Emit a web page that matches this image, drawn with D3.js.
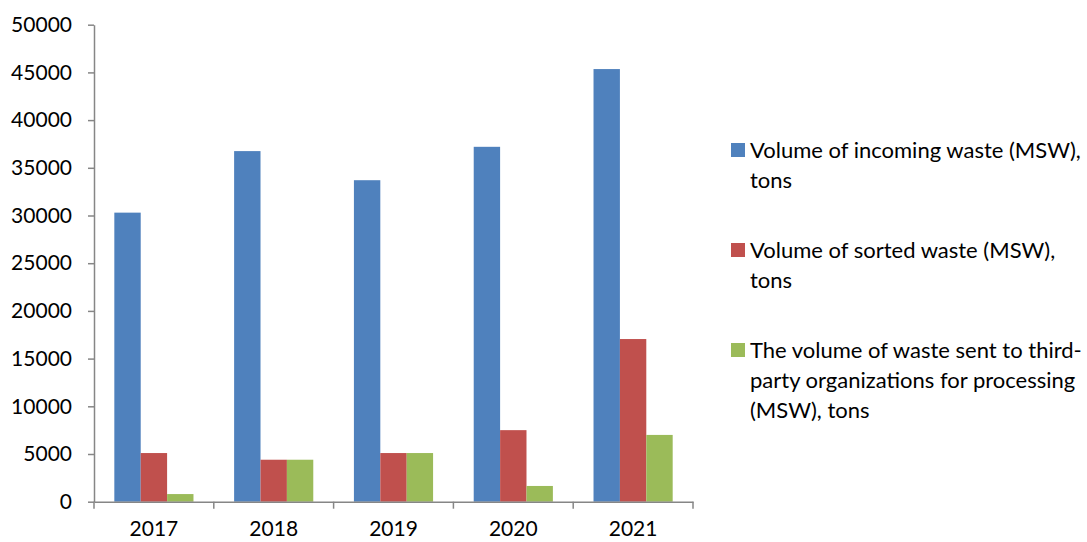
<!DOCTYPE html>
<html>
<head>
<meta charset="utf-8">
<script src="https://cdn.jsdelivr.net/npm/d3@7"></script>
<style>
  body { margin: 0; background: #fff; }
  svg text { font-family: Lato, "Open Sans", sans-serif; fill: #000; }
  .axis .domain, .axis .tick line { stroke: #868686; stroke-width: 1.5; }
</style>
</head>
<body>
<svg id="chart" width="1087" height="542"></svg>
<script>
const years = ["2017", "2018", "2019", "2020", "2021"];
const incoming = [30300, 36750, 33700, 37200, 45350];
const sorted = [5100, 4400, 5100, 7500, 17050];
const thirdParty = [800, 4400, 5100, 1650, 7000];
const yTicks = [0, 5000, 10000, 15000, 20000, 25000, 30000, 35000, 40000, 45000, 50000];

const seriesNames = [
  ["Volume of incoming waste (MSW),", "tons"],
  ["Volume of sorted waste (MSW),", "tons"],
  ["The volume of waste sent to third-", "party organizations for processing", "(MSW), tons"]
];
const colors = ["#4F81BD", "#C0504D", "#9BBB59"];

const series = [incoming, sorted, thirdParty];

const svg = d3.select("#chart");
const margin = {left: 94, right: 394, top: 24.7, bottom: 40.3};
const width = 1087, height = 542;

const x = d3.scaleBand()
    .domain(years)
    .range([margin.left, width - margin.right]);

const y = d3.scaleLinear()
    .domain([0, 50000])
    .range([height - margin.bottom, margin.top]);

// bars: group takes ~66% of each band (Excel gap width ~150%)
const inner = d3.scaleBand()
    .domain(d3.range(series.length))
    .range([0, x.bandwidth()])
    .paddingInner(0)
    .paddingOuter(0.77);

const g = svg.append("g");
series.forEach((vals, s) => {
  g.selectAll(".bar-" + s)
    .data(years.map((yr, i) => ({year: yr, value: vals[i]})))
    .enter().append("rect")
      .attr("class", "bar-" + s)
      .attr("x", d => x(d.year) + inner(s))
      .attr("y", d => y(d.value))
      .attr("width", inner.bandwidth())
      .attr("height", d => y(0) - y(d.value))
      .attr("fill", colors[s]);
});

// y axis
const gy = svg.append("g")
    .attr("class", "axis")
    .attr("transform", `translate(${margin.left},0)`)
    .call(d3.axisLeft(y).tickValues(yTicks).tickFormat(d3.format("d"))
      .tickSize(6).tickPadding(16).tickSizeOuter(0));
gy.selectAll("text").style("font-size", "21px");

// x axis, ticks on category boundaries
const gx = svg.append("g")
    .attr("class", "axis")
    .attr("transform", `translate(0,${y(0)})`)
    .call(d3.axisBottom(x).tickSize(0).tickPadding(19));
gx.selectAll("text").style("font-size", "21px");
gx.selectAll(".boundary")
  .data(years.concat(["end"]))
  .enter().append("line")
    .attr("class", "boundary")
    .attr("x1", (d, i) => margin.left + i * x.step())
    .attr("x2", (d, i) => margin.left + i * x.step())
    .attr("y1", 0)
    .attr("y2", 7)
    .attr("stroke", "#868686")
    .attr("stroke-width", 1.5);

// legend
const legend = svg.append("g").attr("transform", "translate(731,150)");
seriesNames.forEach((lines, s) => {
  const item = legend.append("g").attr("transform", `translate(0,${s * 100})`);
  item.append("rect")
    .attr("x", 0).attr("y", -7)
    .attr("width", 14).attr("height", 14)
    .attr("fill", colors[s]);
  item.selectAll("text")
    .data(lines)
    .enter().append("text")
      .attr("x", 19)
      .attr("y", (d, i) => i * 30)
      .attr("dy", "0.35em")
      .style("font-size", "22px")
      .text(d => d);
});
</script>
</body>
</html>
